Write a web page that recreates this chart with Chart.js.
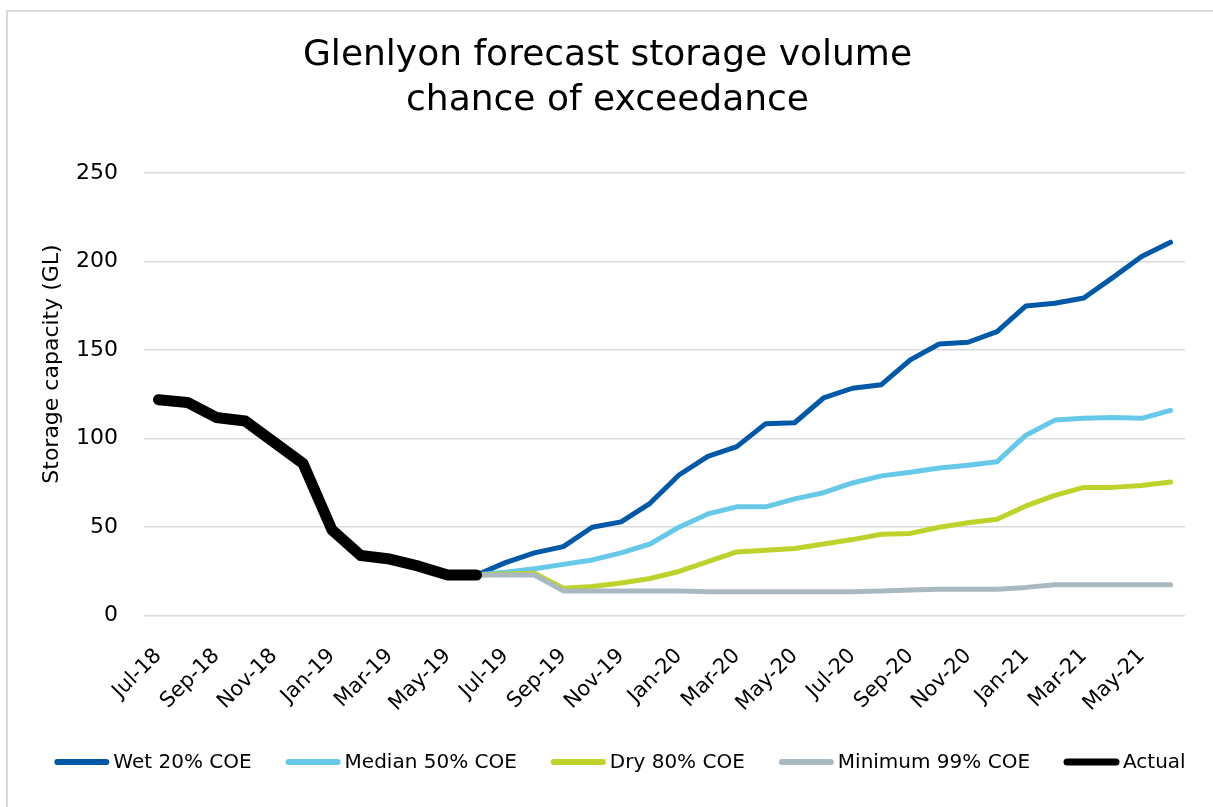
<!DOCTYPE html>
<html>
<head>
<meta charset="utf-8">
<script src="https://cdn.jsdelivr.net/npm/chart.js@4.4.0/dist/chart.umd.min.js"></script>
<style>
html,body{margin:0;padding:0;background:#fff;}
#wrap{width:1213px;height:807px;position:relative;}
</style>
</head>
<body>
<div id="wrap"><canvas id="c" width="1213" height="807"></canvas></div>
<script>
// ---- Data ----
const months = ['Jul-18','Aug-18','Sep-18','Oct-18','Nov-18','Dec-18','Jan-19','Feb-19','Mar-19','Apr-19','May-19','Jun-19',
  'Jul-19','Aug-19','Sep-19','Oct-19','Nov-19','Dec-19','Jan-20','Feb-20','Mar-20','Apr-20','May-20','Jun-20',
  'Jul-20','Aug-20','Sep-20','Oct-20','Nov-20','Dec-20','Jan-21','Feb-21','Mar-21','Apr-21','May-21','Jun-21'];

const pad11 = [null,null,null,null,null,null,null,null,null,null,null];

const wet20 = pad11.concat([23, 30, 35.5, 39, 50, 53, 63.5, 79.5, 90, 95.5, 108.5, 109, 123, 128.5, 130.5, 144.5, 153.5, 154.5, 160.5, 175, 176.5, 179.5, 191, 203, 211]);
const median50 = pad11.concat([23, 24.5, 26.5, 29, 31.5, 35.5, 40.5, 50, 57.5, 61.5, 61.5, 66, 69.5, 75, 79, 81, 83.5, 85, 87, 102, 110.5, 111.5, 112, 111.5, 116]);
const dry80 = pad11.concat([23, 23.5, 24, 15.5, 16.5, 18.5, 21, 25, 30.5, 36, 37, 38, 40.5, 43, 46, 46.5, 50, 52.5, 54.5, 62, 68, 72.5, 72.5, 73.5, 75.5]);
const min99 = pad11.concat([23, 23, 23, 14, 14, 14, 14, 14, 13.5, 13.5, 13.5, 13.5, 13.5, 13.5, 14, 14.5, 15, 15, 15, 16, 17.5, 17.5, 17.5, 17.5, 17.5]);
const actual = [122, 120.5, 112, 110, 98, 86, 48.5, 34, 32, 28, 23, 23];

const seriesNames = ['Wet 20% COE', 'Median 50% COE', 'Dry 80% COE', 'Minimum 99% COE', 'Actual'];
const yTicks = [0, 50, 100, 150, 200, 250];
const titleLines = ['Glenlyon forecast storage volume', 'chance of exceedance'];
const yTitle = 'Storage capacity (GL)';

// ---- Styles ----
const FONT = "'DejaVu Sans', sans-serif";
const colors = ['#0058A8', '#66C9E9', '#BDD22B', '#A9B8C1', '#000000'];
const widths = [5, 5, 5, 5, 11];
const legendWidths = [6, 6, 6, 6, 7];

function mkDs(i, data, order) {
  return {
    label: seriesNames[i], data: data,
    borderColor: colors[i], backgroundColor: colors[i],
    borderWidth: widths[i], pointRadius: 0, pointHoverRadius: 0,
    tension: 0, fill: false, spanGaps: false,
    borderCapStyle: 'round', borderJoinStyle: 'round',
    order: order
  };
}

const bgPlugin = {
  id: 'bg',
  beforeDraw(chart) {
    const ctx = chart.ctx;
    ctx.save();
    ctx.fillStyle = '#ffffff';
    ctx.fillRect(0, 0, chart.width, chart.height);
    ctx.strokeStyle = '#d9d9d9';
    ctx.lineWidth = 2;
    ctx.beginPath();
    ctx.moveTo(7, 807); ctx.lineTo(7, 11); ctx.lineTo(1213, 11);
    ctx.stroke();
    ctx.restore();
  }
};

// y-axis title, centred where the reference puts it
const yTitlePlugin = {
  id: 'yTitle',
  afterDraw(chart) {
    const ctx = chart.ctx;
    ctx.save();
    ctx.font = '22px ' + FONT;
    ctx.fillStyle = '#000';
    ctx.textAlign = 'center';
    ctx.textBaseline = 'middle';
    ctx.translate(52, 364);
    ctx.rotate(-Math.PI / 2);
    ctx.fillText(yTitle, 0, 0);
    ctx.restore();
  }
};

const legendPlugin = {
  id: 'customLegend',
  afterDraw(chart) {
    const ctx = chart.ctx;
    ctx.save();
    ctx.font = '20px ' + FONT;
    const lineLen = 55, gapText = 4, gapItem = 34;
    const ds = chart.data.datasets;
    let total = 0;
    const tw = ds.map(d => ctx.measureText(d.label).width);
    tw.forEach((w, i) => { total += lineLen + gapText + w + (i < tw.length - 1 ? gapItem : 0); });
    let x = 620 - total / 2;
    const y = 762;
    ds.forEach((d, i) => {
      ctx.strokeStyle = d.borderColor;
      ctx.lineWidth = legendWidths[i];
      ctx.lineCap = 'round';
      ctx.beginPath();
      ctx.moveTo(x + 3, y); ctx.lineTo(x + lineLen - 3, y);
      ctx.stroke();
      ctx.fillStyle = '#000';
      ctx.textBaseline = 'middle';
      ctx.textAlign = 'left';
      ctx.fillText(d.label, x + lineLen + gapText, y + 1);
      x += lineLen + gapText + tw[i] + gapItem;
    });
    ctx.restore();
  }
};

new Chart(document.getElementById('c'), {
  type: 'line',
  data: {
    labels: months,
    datasets: [
      mkDs(0, wet20, 4),
      mkDs(1, median50, 3),
      mkDs(2, dry80, 2),
      mkDs(3, min99, 1),
      mkDs(4, actual, 0)
    ]
  },
  options: {
    responsive: false,
    animation: false,
    devicePixelRatio: 1,
    layout: { padding: { left: 30, right: 28, top: 0, bottom: 0 } },
    plugins: {
      legend: { display: false },
      tooltip: { enabled: false },
      title: {
        display: true,
        text: titleLines,
        color: '#000',
        font: { family: FONT, size: 36, weight: 'normal', lineHeight: 1.25 },
        padding: { top: 33, bottom: 50.2 }
      }
    },
    scales: {
      x: {
        type: 'category',
        offset: true,
        grid: { display: false, drawTicks: false },
        border: { display: false },
        ticks: {
          autoSkip: false,
          minRotation: 45, maxRotation: 45,
          color: '#000',
          font: { family: FONT, size: 21 },
          padding: 28,
          callback: function(v, i) { return i % 2 === 0 ? months[i] : ''; }
        },
        afterFit(scale) { scale.height = 191.3; scale.paddingLeft = 0; scale.paddingRight = 0; }
      },
      y: {
        min: 0, max: 250,
        afterBuildTicks(scale) { scale.ticks = yTicks.map(v => ({ value: v })); },
        grid: { color: '#d9d9d9', lineWidth: 1.5, drawTicks: false },
        border: { display: false },
        ticks: {
          color: '#000',
          font: { family: FONT, size: 22 },
          padding: 26
        },
        title: { display: false, text: yTitle },
        afterFit(scale) { scale.width = 114; }
      }
    }
  },
  plugins: [bgPlugin, yTitlePlugin, legendPlugin]
});
</script>
</body>
</html>
